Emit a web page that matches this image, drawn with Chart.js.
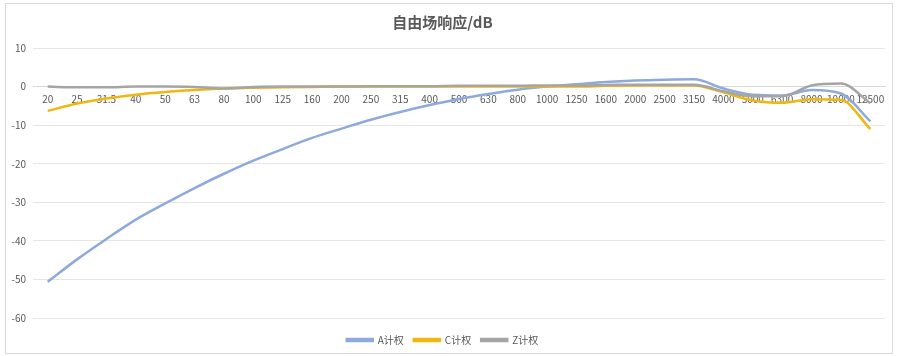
<!DOCTYPE html>
<html>
<head>
<meta charset="utf-8">
<script src="https://cdn.jsdelivr.net/npm/chart.js@4/dist/chart.umd.min.js"></script>
<style>
html,body{margin:0;padding:0;background:#fff;}
#wrap{width:897px;height:356px;position:relative;}
</style>
</head>
<body>
<div id="wrap"><canvas id="c" width="897" height="356"></canvas></div>
<script>
const titleText = '自由场响应/dB';
const categories = ['20','25','31.5','40','50','63','80','100','125','160','200','250','315','400','500','630','800','1000','1250','1600','2000','2500','3150','4000','5000','6300','8000','10000','12500'];
const seriesNames = ['A计权','C计权','Z计权'];
const aWeight = [-50.6,-44.8,-39.5,-34.5,-30.3,-26.3,-22.6,-19.2,-16.2,-13.3,-10.9,-8.6,-6.6,-4.8,-3.2,-1.9,-0.8,0.0,0.6,1.2,1.6,1.8,1.9,-0.5,-2.1,-2.3,-0.9,-1.8,-9.0];
const cWeight = [-6.3,-4.4,-3.1,-2.1,-1.4,-0.9,-0.5,-0.3,-0.2,-0.1,0.0,0.0,0.0,0.0,0.0,0.0,0.0,0.0,0.0,0.2,0.3,0.3,0.3,-1.5,-3.6,-4.2,-3.3,-3.5,-11.0];
const zWeight = [0.0,-0.2,-0.2,0.0,0.0,-0.1,-0.5,-0.1,0.0,0.0,0.0,0.1,0.1,0.1,0.2,0.2,0.2,0.3,0.3,0.4,0.5,0.5,0.5,-1.2,-2.5,-2.5,0.3,0.8,-4.3];
const yTicks = [10,0,-10,-20,-30,-40,-50,-60];

const colors = ['#8EA9DB','#F0B70F','#A5A5A5'];
const FONT = '"Noto Sans CJK SC", "Open Sans", sans-serif';

const borderPlugin = {
  id: 'outerBorder',
  beforeDraw(chart) {
    const ctx = chart.ctx;
    ctx.save();
    ctx.fillStyle = '#fff';
    ctx.fillRect(0,0,chart.width,chart.height);
    ctx.strokeStyle = '#d9d9d9';
    ctx.lineWidth = 1;
    ctx.strokeRect(5.5,3.5,chart.width-10,chart.height-6);
    ctx.restore();
  },
  afterLayout(chart) {
    if (chart.legend) { chart.legend.top += 7; chart.legend.bottom += 7; }
  }
};

new Chart(document.getElementById('c'), {
  type: 'line',
  data: {
    labels: categories,
    datasets: [
      {label: seriesNames[0], data: aWeight, borderColor: colors[0], backgroundColor: colors[0], order: 2},
      {label: seriesNames[1], data: cWeight, borderColor: colors[1], backgroundColor: colors[1], order: 1},
      {label: seriesNames[2], data: zWeight, borderColor: colors[2], backgroundColor: colors[2], order: 0}
    ]
  },
  options: {
    responsive: false,
    animation: false,
    devicePixelRatio: 1,
    elements: {
      line: {borderWidth: 2.5, tension: 0.2, cubicInterpolationMode: 'monotone'},
      point: {radius: 0, hoverRadius: 0}
    },
    layout: {padding: {top: 0, bottom: 8, left: 0, right: 12}},
    scales: {
      x: {
        position: {y: 0},
        offset: true,
        grid: {display: false, drawTicks: false},
        border: {display: true, color: '#d9d9d9', width: 1},
        ticks: {color: '#595959', font: {family: FONT, size: 10}, padding: 7, maxRotation: 0, minRotation: 0, autoSkip: false}
      },
      y: {
        min: -60, max: 10,
        afterBuildTicks(scale) { scale.ticks = yTicks.map(v => ({value: v})); },
        afterFit(scale) { scale.width = 33; },
        grid: {color: '#e6e6e6', drawTicks: false},
        border: {display: false},
        ticks: {color: '#595959', font: {family: FONT, size: 10}, padding: 7}
      }
    },
    plugins: {
      title: {
        display: true, text: titleText, color: '#595959',
        font: {family: FONT, size: 15, weight: 'bold'},
        padding: {top: 13, bottom: 17}
      },
      legend: {
        display: true, position: 'bottom',
        labels: {
          color: '#595959', font: {family: FONT, size: 10},
          boxWidth: 26, boxHeight: 2, padding: 10,
          sort: (a, b) => a.datasetIndex - b.datasetIndex
        }
      },
      tooltip: {enabled: false}
    }
  },
  plugins: [borderPlugin]
});
</script>
</body>
</html>
